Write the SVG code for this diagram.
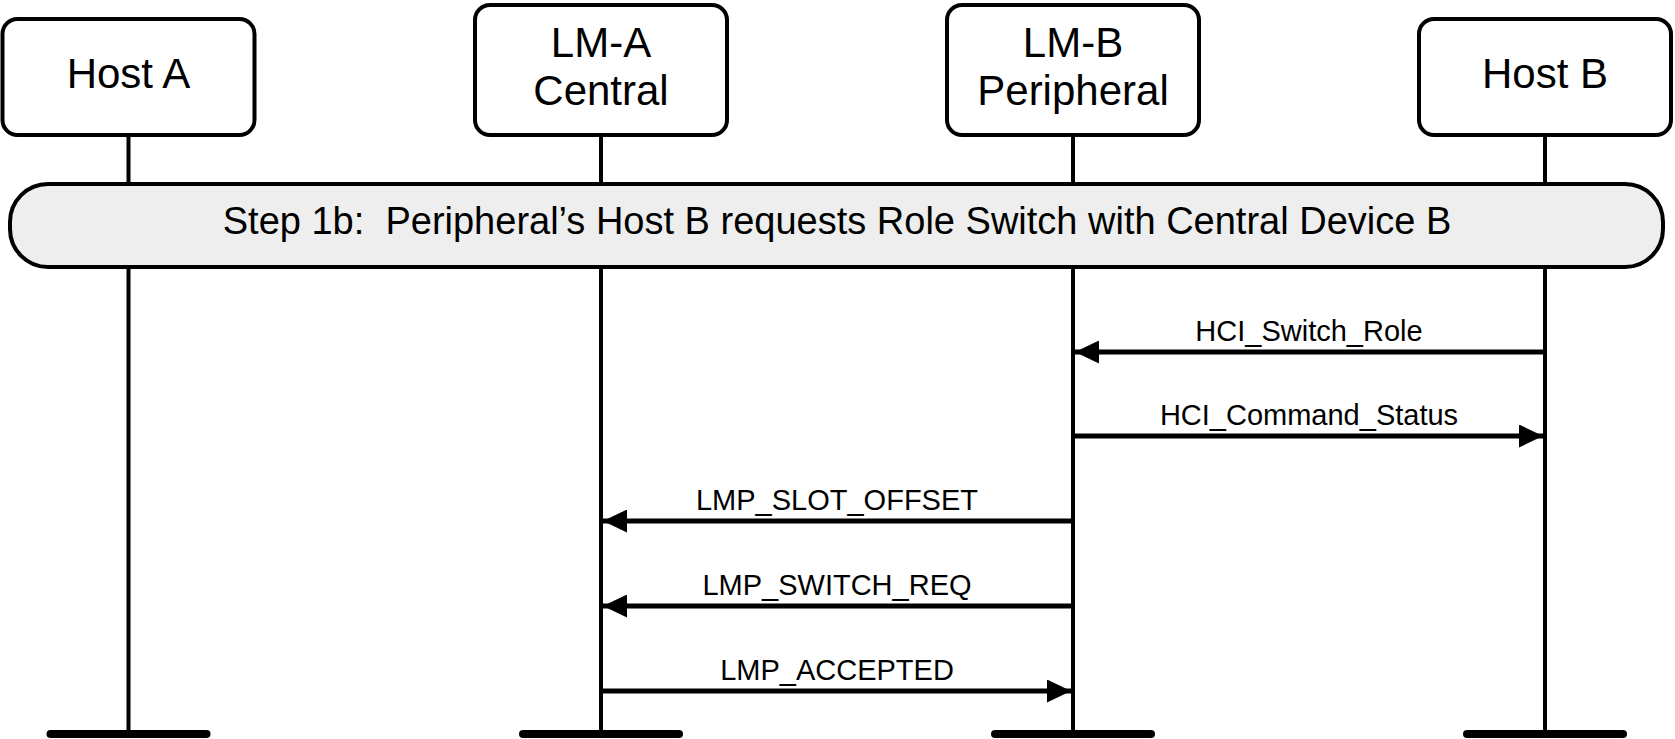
<svg xmlns="http://www.w3.org/2000/svg" width="1675" height="739" viewBox="0 0 1675 739">
<style>
.box{fill:#ffffff;stroke:#000000;stroke-width:4}
.life{stroke:#000000;stroke-width:4;fill:none}
.foot{stroke:#000000;stroke-width:8;stroke-linecap:round}
.msg{stroke:#000000;stroke-width:5;fill:none}
.lbl{font-family:"Liberation Sans",Arial,sans-serif;fill:#000000;text-anchor:middle}
.node{font-size:42px}
.step{font-size:38px}
.ml{font-size:29px}
</style>
<defs>
<marker id="ah" markerUnits="userSpaceOnUse" markerWidth="24" markerHeight="23" refX="24" refY="11.5" orient="auto">
<path d="M0,0 L24,11.5 L0,23 Z" fill="#000000"/>
</marker>
</defs>
<g id="lifelines">
<line class="life" x1="128.5" y1="135" x2="128.5" y2="734"/>
<line class="life" x1="601" y1="135" x2="601" y2="734"/>
<line class="life" x1="1073" y1="135" x2="1073" y2="734"/>
<line class="life" x1="1545" y1="135" x2="1545" y2="734"/>
<line class="foot" x1="50.5" y1="734" x2="206.5" y2="734"/>
<line class="foot" x1="523" y1="734" x2="679" y2="734"/>
<line class="foot" x1="995" y1="734" x2="1151" y2="734"/>
<line class="foot" x1="1467" y1="734" x2="1623" y2="734"/>
</g>
<g id="hostA">
<rect class="box" x="2.5" y="19" width="252" height="116" rx="15"/>
<text class="lbl node" x="128.5" y="88">Host A</text>
</g>
<g id="lmA">
<rect class="box" x="475" y="5" width="252" height="130" rx="15"/>
<text class="lbl node" x="601" y="57">LM-A</text>
<text class="lbl node" x="601" y="105">Central</text>
</g>
<g id="lmB">
<rect class="box" x="947" y="5" width="252" height="130" rx="15"/>
<text class="lbl node" x="1073" y="57">LM-B</text>
<text class="lbl node" x="1073" y="105">Peripheral</text>
</g>
<g id="hostB">
<rect class="box" x="1419" y="19" width="252" height="116" rx="15"/>
<text class="lbl node" x="1545" y="88">Host B</text>
</g>
<g id="step">
<rect x="10" y="184" width="1653" height="83" rx="38" fill="#eeeeee" stroke="#000000" stroke-width="4"/>
<text class="lbl step" x="837" y="234" xml:space="preserve">Step 1b:  Peripheral’s Host B requests Role Switch with Central Device B</text>
</g>
<g id="connectors">
<line class="msg" x1="1545" y1="352" x2="1075" y2="352" marker-end="url(#ah)"/>
<text class="lbl ml" x="1309" y="341">HCI_Switch_Role</text>
<line class="msg" x1="1073" y1="436" x2="1543" y2="436" marker-end="url(#ah)"/>
<text class="lbl ml" x="1309" y="425">HCI_Command_Status</text>
<line class="msg" x1="1073" y1="521" x2="603" y2="521" marker-end="url(#ah)"/>
<text class="lbl ml" x="837" y="510">LMP_SLOT_OFFSET</text>
<line class="msg" x1="1073" y1="606" x2="603" y2="606" marker-end="url(#ah)"/>
<text class="lbl ml" x="837" y="595">LMP_SWITCH_REQ</text>
<line class="msg" x1="601" y1="691" x2="1071" y2="691" marker-end="url(#ah)"/>
<text class="lbl ml" x="837" y="680">LMP_ACCEPTED</text>
</g>
</svg>
